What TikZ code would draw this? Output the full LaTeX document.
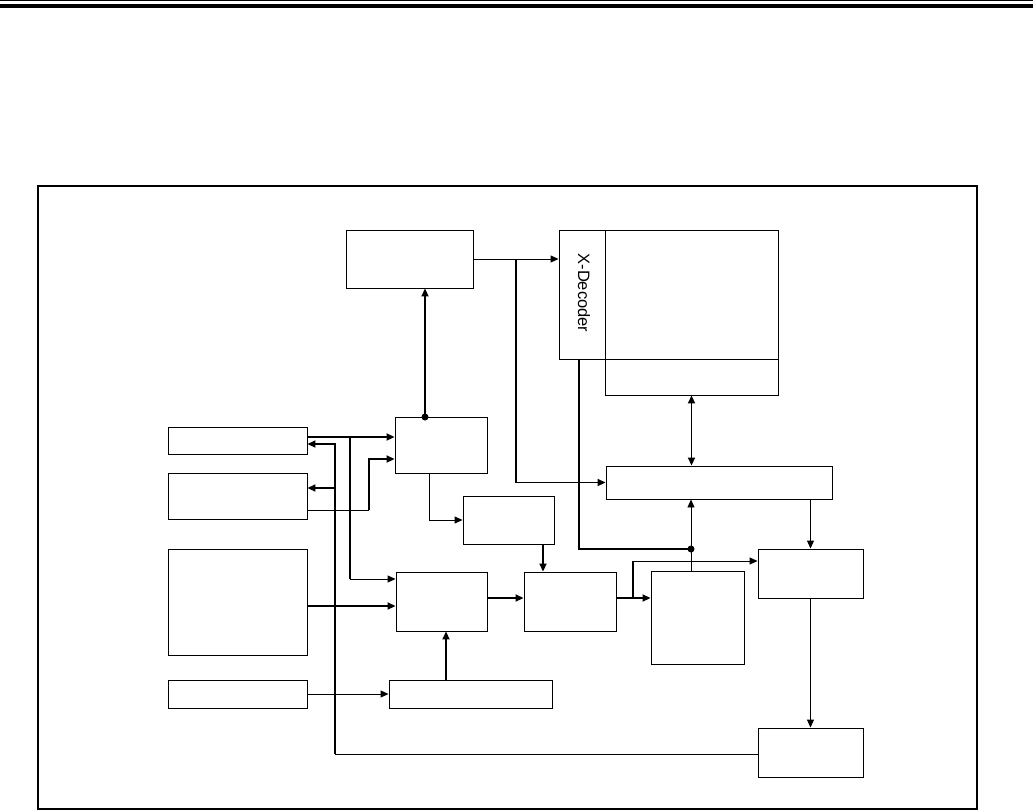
\documentclass[tikz,border=0pt]{standalone}
\usepackage{fontspec}
\setmainfont{Liberation Sans}
\usetikzlibrary{arrows.meta}

\tikzset{
  blk/.style={draw, line width=0.9pt, inner sep=0pt},
  wire/.style={line width=0.9pt},
  bus/.style={line width=1.8pt},
  tip/.style={-{Triangle[length=8pt,width=7pt]}},
  tips/.style={{Triangle[length=8pt,width=7pt]}-{Triangle[length=8pt,width=7pt]}}
}

\begin{document}
\begin{tikzpicture}[x=1pt, y=-1pt, every node/.style={font=\fontsize{16.5}{18}\selectfont}]
  \useasboundingbox (0,0) rectangle (1033,811);
  \draw[line width=1pt] (0,0.8) -- (1033,0.8);
  \fill (0,4.3) rectangle (1033,8);
  \draw[line width=2pt] (37.5,186) rectangle (977,809);

  \node[blk, minimum width=127, minimum height=58] (addr) at (409.5,259) {};
  \node[blk, minimum width=46, minimum height=129] (xdec) at (582,294.5) {};
  \node[rotate=-90, inner sep=0pt] (xdectxt) at (584,293) {X-Decoder};
  \node[blk, minimum width=173, minimum height=129] (array) at (691.5,294.5) {};
  \node[blk, minimum width=173, minimum height=36] (pgbuf) at (691.5,377) {};
  \node[blk, minimum width=226, minimum height=33] (ybus) at (719,482.5) {};
  \node[blk, minimum width=92, minimum height=56] (ctrl) at (441,445) {};
  \node[blk, minimum width=91, minimum height=48] (osc) at (508.5,520) {};
  \node[blk, minimum width=139, minimum height=27] (inA) at (237.5,440.5) {};
  \node[blk, minimum width=139, minimum height=46] (inB) at (237.5,496) {};
  \node[blk, minimum width=139, minimum height=106] (inC) at (237.5,602) {};
  \node[blk, minimum width=139, minimum height=28] (inD) at (237.5,694) {};
  \node[blk, minimum width=91, minimum height=59] (seq) at (441.5,601.5) {};
  \node[blk, minimum width=92, minimum height=59] (pump) at (570,601.5) {};
  \node[blk, minimum width=93, minimum height=93] (hv) at (697.5,617.5) {};
  \node[blk, minimum width=105, minimum height=49] (sense) at (810.5,573.5) {};
  \node[blk, minimum width=105, minimum height=49] (outb) at (810.5,752.5) {};
  \node[blk, minimum width=163, minimum height=28] (reg) at (470.5,694) {};

  \coordinate (addrbr) at (516,259);
  \coordinate (cdot) at (425,417);
  \coordinate (hvdot) at (691,549);
  \coordinate (inbr) at (350,437);
  \coordinate (retx) at (335,754);
  \coordinate (pumpbr) at (633,598);
  \coordinate (inBbr) at (369,510);

  \draw[wire, tip] (addr.east) -- (addr.east -| xdec.west);
  \draw[bus, tip] (addrbr) |- (ybus.west);
  \draw[bus, tip] (cdot) -- (cdot |- addr.south);
  \fill (cdot) circle (3.5);
  \draw[bus, tips] (pgbuf.south) -- (pgbuf.south |- ybus.north);

  \draw[bus, tip] ([yshift=3.5pt]inA.east) -- ([yshift=8pt]ctrl.west);
  \draw[bus] (inbr) -- (inbr |- 0,579);
  \draw[wire, tip] (inbr |- 0,579) -- ([yshift=22.5pt]seq.west);
  \draw[wire] (outb.west |- retx) -- (retx);
  \draw[bus, tip] (retx) -- (retx |- 0,444) -- ([yshift=-3.5pt]inA.east);
  \draw[bus, tip] (retx |- 0,488) -- ([yshift=8pt]inB.east);
  \draw[wire] ([yshift=-14pt]inB.east) -- (inBbr);
  \draw[bus, tip] (inBbr) -- (inBbr |- 0,459) -- ([yshift=-14pt]ctrl.west);
  \draw[wire, tip] (ctrl.south -| 429,0) |- (osc.west);

  \draw[bus, tip] ([yshift=-4pt]inC.east) -- ([yshift=-4.5pt]seq.west);
  \draw[bus, tip] ([yshift=3.5pt]seq.east) -- ([yshift=3.5pt]pump.west);
  \draw[bus, tip] (osc.south -| 543,0) -- (pump.north -| 543,0);
  \draw[bus, tip] ([yshift=3.5pt]pump.east) -- ([yshift=19.5pt]hv.west);
  \draw[bus] (pumpbr) -- (pumpbr |- 0,561);
  \draw[wire, tip] (pumpbr |- 0,561) -- ([yshift=12.5pt]sense.west);

  \draw[bus] (xdec.south -| 579,0) |- (hvdot);
  \draw[wire, tip] (hv.north -| hvdot) -- (hvdot |- ybus.south);
  \fill (hvdot) circle (3.5);

  \draw[wire, tip] (sense.north |- ybus.south) -- (sense.north);
  \draw[wire, tip] (sense.south) -- (outb.north);
  \draw[wire, tip] (inD.east) -- (reg.west);
  \draw[bus, tip] (reg.north -| 446,0) -- (seq.south -| 446,0);
\end{tikzpicture}
\end{document}
